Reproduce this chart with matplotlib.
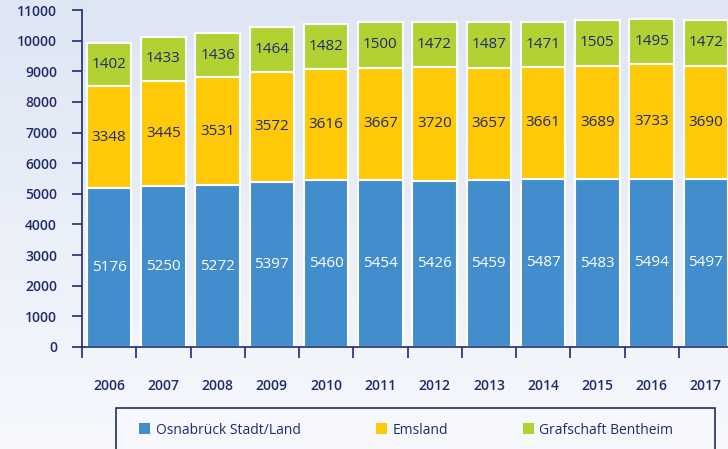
import numpy as np
import matplotlib
matplotlib.use("Agg")
import matplotlib.pyplot as plt
from matplotlib.patches import Rectangle
#======================================================================#
## data
years = ["2006", "2007", "2008", "2009", "2010", "2011",
         "2012", "2013", "2014", "2015", "2016", "2017"]
osnabrueck = [5176, 5250, 5272, 5397, 5460, 5454, 5426, 5459, 5487, 5483, 5494, 5497]
emsland = [3348, 3445, 3531, 3572, 3616, 3667, 3720, 3657, 3661, 3689, 3733, 3690]
bentheim = [1402, 1433, 1436, 1464, 1482, 1500, 1472, 1487, 1471, 1505, 1495, 1472]
series_names = ["Osnabrück Stadt/Land", "Emsland", "Grafschaft Bentheim"]
#======================================================================#
## style
navy = "#1f2c6c"
colors = ["#428dcb", "#ffc908", "#b2d234"]
plt.rcParams['font.family'] = ['Open Sans', 'DejaVu Sans']

fig = plt.figure(figsize=(7.28, 4.49), dpi=100)

# background gradient
bg = fig.add_axes([0, 0, 1, 1], zorder=-10)
grad = np.linspace(0, 1, 256).reshape(-1, 1)
top = np.array([0xde, 0xe6, 0xf4]) / 255.0
bot = np.array([0xf6, 0xf8, 0xfd]) / 255.0
img = top[None, None, :] * (1 - grad[:, :, None]) + bot[None, None, :] * grad[:, :, None]
bg.imshow(img, aspect='auto', extent=[0, 1, 0, 1])
bg.axis('off')

ax = fig.add_axes([82 / 728, 102 / 449, 651 / 728, 337 / 449])
ax.set_facecolor('none')

x = np.arange(len(years))
bottom = np.zeros(len(years))
for vals, col, name in zip([osnabrueck, emsland, bentheim], colors, series_names):
    bars = ax.bar(x, vals, width=0.82, bottom=bottom, color=col, edgecolor='white',
                  linewidth=1.5, label=name)
    txtcol = 'white' if col == colors[0] else navy
    ax.bar_label(bars, labels=[str(v) for v in vals], label_type='center',
                 color=txtcol, fontsize=11)
    bottom += np.array(vals)

ax.set_xlim(-0.5, len(years) - 0.5)
ax.set_ylim(0, 11000)
ax.set_yticks(np.arange(0, 11001, 1000))
ax.set_yticklabels([str(v) for v in range(0, 11001, 1000)], fontsize=10, color=navy,
                   fontweight='semibold')
ax.set_xticks(x)
ax.set_xticklabels(years, fontsize=10, color=navy, fontweight='semibold')
ax.set_xticks(np.arange(-0.5, len(years), 1), minor=True)
ax.tick_params(axis='x', which='major', length=0, pad=23)
ax.tick_params(axis='x', which='minor', length=8, width=1.2, color=navy, direction='out')
ax.tick_params(axis='y', length=7, width=1.2, color=navy, pad=11)

for s in ['top', 'right']:
    ax.spines[s].set_visible(False)
for s in ['left', 'bottom']:
    ax.spines[s].set_color(navy)
    ax.spines[s].set_linewidth(1.2)

# legend box
fig.patches.append(Rectangle((116 / 728, -0.02), 599 / 728, 41 / 449 + 0.02,
                             transform=fig.transFigure, facecolor='#f6f8fd',
                             edgecolor=navy, linewidth=1.2, zorder=1))
leg = fig.legend(loc='center left', bbox_to_anchor=(139 / 728, 19 / 449),
                 ncol=3, frameon=False, columnspacing=5.4,
                 handlelength=0.8, handleheight=0.8, handletextpad=0.4,
                 fontsize=10, borderaxespad=0, borderpad=0)
for t in leg.get_texts():
    t.set_color(navy)
for h in leg.legend_handles:
    h.set_edgecolor('none')

fig.savefig("out.png", dpi=100)
